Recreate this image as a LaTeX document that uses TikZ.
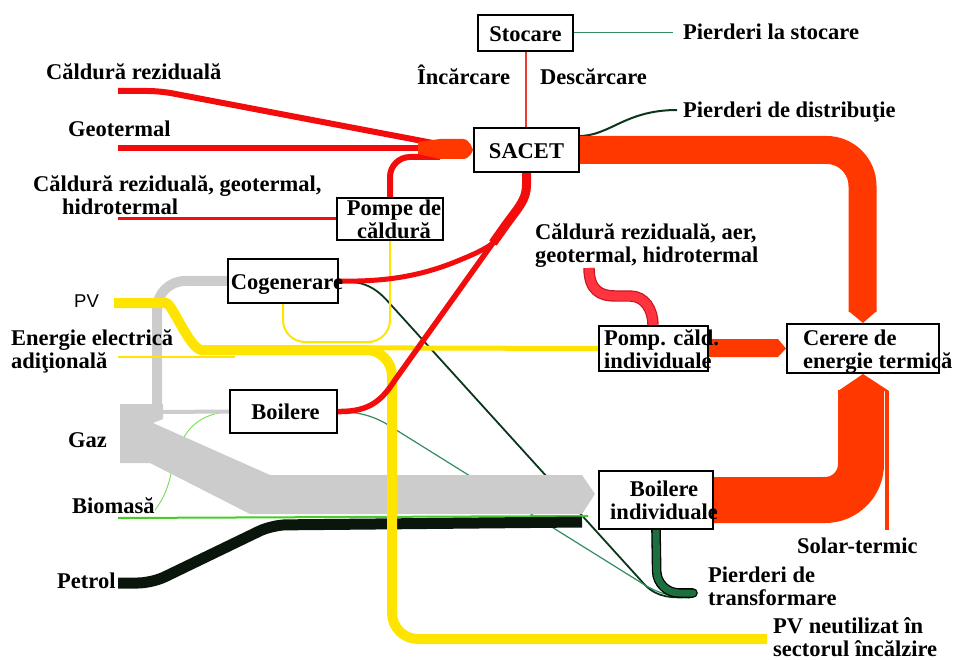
\documentclass[tikz,border=0pt]{standalone}
\usepackage{fontspec}
\setmainfont{Liberation Serif}
\newfontfamily\pvfont{Liberation Sans}
\usetikzlibrary{positioning}
\pgfdeclarelayer{flows}
\pgfsetlayers{flows,main}

\definecolor{flowred}{RGB}{255,56,0}
\definecolor{linered}{RGB}{242,12,12}
\definecolor{storered}{RGB}{235,60,50}
\definecolor{airred}{RGB}{255,52,64}
\definecolor{airdark}{RGB}{200,20,30}
\definecolor{gasgray}{RGB}{204,204,204}
\definecolor{pvyellow}{RGB}{255,228,0}
\definecolor{oilblack}{RGB}{10,22,12}
\definecolor{lossgreen}{RGB}{10,55,28}
\definecolor{tealloss}{RGB}{50,140,95}
\definecolor{biogreen}{RGB}{70,205,40}
\definecolor{lightgreen}{RGB}{120,220,90}
\definecolor{pipegreen}{RGB}{28,112,62}

\newcommand{\lblfont}{\fontsize{22.5}{23}\selectfont\bfseries}
\newcommand{\boxc}[2][0pt]{\makebox[0pt]{\hspace*{#1}\smash{\raisebox{-9pt}{\begin{tabular}{@{}c@{}}#2\end{tabular}}}}}
\newcommand{\boxl}[2]{\makebox[0pt][l]{\hspace*{#1}\smash{\raisebox{-9pt}{\begin{tabular}{@{}l@{}}#2\end{tabular}}}}}
\newcommand{\stk}[1]{\begin{tabular}[t]{@{}l@{}}#1\end{tabular}}

\tikzset{
  box/.style={draw, fill=white, line width=2pt, inner sep=0pt, font=\lblfont},
  lbl/.style={inner sep=0pt, font=\lblfont, anchor=base west},
  redflow/.style={draw=flowred, line width=#1},
  redline/.style={draw=linered, line width=#1},
  pvflow/.style={draw=pvyellow, line width=#1}
}

\begin{document}
\begin{tikzpicture}[x=1pt, y=-1pt]
\useasboundingbox (0,0) rectangle (958,660);

\node[box, minimum width=95pt, minimum height=36pt] (stoc) at (525.5,33) {\boxc{Stocare}};
\node[box, minimum width=105pt, minimum height=44pt] (sacet) at (526.5,150) {\boxc{SACET}};
\node[box, minimum width=106pt, minimum height=42pt] (pdc) at (390,219) {\boxc[8pt]{Pompe de\\căldură}};
\node[box, minimum width=110pt, minimum height=44pt] (cogen) at (283,281) {\boxc[8pt]{Cogenerare}};
\node[box, minimum width=107pt, minimum height=43pt] (boil) at (283.5,411.5) {\boxc[4pt]{Boilere}};
\node[box, minimum width=109pt, minimum height=45pt] (pci) at (653.5,348.5) {\boxl{-49.5pt}{Pomp. căld.\\individuale}};
\node[box, minimum width=152pt, minimum height=49pt] (cerere) at (863,348.5) {\boxl{-60pt}{Cerere de\\energie termică}};
\node[box, minimum width=114pt, minimum height=58pt] (bind) at (656,500) {\boxc[16pt]{Boilere\\individuale}};

\node[lbl] (lcr) at (46,80) {Căldură reziduală};
\node[lbl] (lgeo) at (68,137) {Geotermal};
\node[lbl] (lcrgh) at (33,192) {\stk{Căldură reziduală, geotermal,\\\hspace*{29pt}hidrotermal}};
\node[lbl] (linc) at (417,85) {Încărcare};
\node[lbl] (ldesc) at (540,85) {Descărcare};
\node[lbl] (lps) at (683,40) {Pierderi la stocare};
\node[lbl] (lpd) at (683,118) {Pierderi de distribuţie};
\node[lbl] (laer) at (535,240) {\stk{Căldură reziduală, aer,\\geotermal, hidrotermal}};
\node[lbl, font=\pvfont\fontsize{18.5}{18.5}\selectfont] (lpv) at (74,307) {PV};
\node[lbl] (lel) at (11,345) {\stk{Energie electrică\\adiţională}};
\node[lbl] (lgaz) at (68,447) {Gaz};
\node[lbl] (lbio) at (72,513) {Biomasă};
\node[lbl] (lpet) at (57,588) {Petrol};
\node[lbl] (lsol) at (797,553) {Solar-termic};
\node[lbl] (lpt) at (708,582) {\stk{Pierderi de\\transformare}};
\node[lbl] (lpvn) at (773,633) {\stk{PV neutilizat în\\sectorul încălzire}};

\begin{pgfonlayer}{flows}
\draw[lossgreen, line width=1.8pt] (cogen.east) .. controls (368,281) and (378,290) .. (392,306)
  -- (645,585) .. controls (658,598) and (672,598) .. (692,597);
\draw[tealloss, line width=1.2pt] (boil.east) .. controls (358,412) and (370,415) .. (385,423)
  -- (640,582) .. controls (655,592) and (670,597) .. (690,598);
\draw[lightgreen, line width=.9pt] (155,510) .. controls (172,488) and (170,468) .. (178,450)
  .. controls (186,428) and (200,414) .. (boil.west);

\fill[gasgray] (120,404) -- (163,404) -- (163,419) -- (153,423) -- (270,475) -- (582,475)
  -- (595,494) -- (582,514) -- (250,514) -- (150,463) -- (120,463) -- cycle;
\draw[gasgray, line width=10pt, rounded corners=28pt] (157,406) -- (157,281) -- (cogen.west);
\draw[gasgray, line width=4pt] (160,412) -- (boil.west);
\draw[biogreen, line width=2pt] (118,518) -- (588,516);
\draw[oilblack, line width=11pt, rounded corners=14pt] (118,583) -- (152,583) -- (272,525) -- (582,522);

\draw[draw=black, double=pipegreen, double distance=7pt, line width=1.3pt, line cap=round,
  rounded corners=22pt] (bind.south) -- (657,593) -- (693,593);

\draw[pvflow=10pt, rounded corners=26pt] (118,303) -- (140,303) .. controls (172,303) and (190,350) .. (228,350)
  -- (392,350) -- (392,639) -- (767,639);
\draw[pvflow=5pt] (228,347.5) -- (pci.west);
\draw[pvflow=2pt] (118,357) -- (235,357);
\draw[pvflow=2pt, rounded corners=22pt] (cogen.south) -- (283,342) -- (390,342) -- (pdc.south);

\draw[redline=6pt, rounded corners=12pt] (118,91) -- (160,91) -- (433,143);
\draw[redline=6pt] (118,148) -- (433,148);
\draw[redline=3pt] (118,219) -- (pdc.west);
\draw[redline=6pt, rounded corners=20pt] (pdc.north) -- (390,157) -- (440,157);
\fill[flowred] (418,142) -- (440,139) -- (463,139) .. controls (470,139) and (sacet.west) .. (sacet.west)
  .. controls (sacet.west) and (470,159) .. (463,159) -- (440,159) -- (418,154) -- cycle;
\draw[redline=5.5pt] (boil.east) .. controls (370,412) and (382,400) .. (395,380) -- (505,226);
\draw[redline=5pt] (cogen.east) .. controls (385,282) and (420,276) .. (455,262)
  .. controls (472,255) and (485,250) .. (497,240);
\draw[redline=9pt] (493,243) -- (505,226) .. controls (518,208) and (526.5,200) .. (526.5,185) -- (sacet.south);
\draw[storered, line width=2pt] (stoc.south) -- (sacet.north -| stoc.south);
\draw[tealloss, line width=1pt] (stoc.east) -- ([xshift=-10pt]lps.west |- stoc.east);
\draw[lossgreen, line width=2pt] (579,136) .. controls (610,136) and (625,110) .. ([xshift=-6pt]lpd.west |- 0,110);

\draw[redflow=28pt, rounded corners=36pt] (sacet.east) -- (862.5,150) -- (862.5,312);
\fill[flowred] (848.5,311) -- (876.5,311) -- (cerere.north) -- cycle;
\draw[draw=airdark, double=airred, double distance=9pt, line width=1.2pt]
  (589,268) .. controls (589,290) and (600,296) .. (615,296) -- (630,296)
  .. controls (645,296) and (653,310) .. (pci.north -| 653,0);
\fill[flowred] (pci.east |- 0,339) -- (778,339) -- (cerere.west) -- (778,357) -- (pci.east |- 0,357) -- cycle;
\draw[redflow=46pt, rounded corners=36pt] (bind.east) -- (861,500) -- (861,390);
\draw[redflow=4pt] (887,530) -- (887,391);
\fill[flowred] (838,391) -- (cerere.south) -- (889,391) -- cycle;
\end{pgfonlayer}
\end{tikzpicture}
\end{document}
